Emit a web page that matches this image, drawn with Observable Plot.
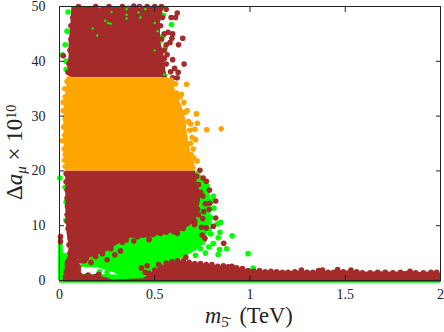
<!DOCTYPE html>
<html><head><meta charset="utf-8">
<style>html,body{margin:0;padding:0;background:#fff}svg{display:block}</style>
<script src="https://cdn.jsdelivr.net/npm/d3@7"></script>
<script src="https://cdn.jsdelivr.net/npm/@observablehq/plot@0.6"></script>
</head><body><script>
const xTicks=[0,0.5,1,1.5,2], yTicks=[0,10,20,30,40,50];
const BROWN="#a52a2a",GREEN="#00ff00",ORANGE="#ffa500";

// envelopes
const topBand=[[50,.065,.55],[47,.06,.53],[45,.055,.53],[43,.05,.535],[41,.05,.55],[39,.045,.555],[37,.05,.565]];
const orangeBand=[[37,.05,.57],[36,.04,.595],[34,.033,.615],[32,.025,.64],[31,.025,.65],[29,.022,.665],[27,.024,.67],[25,.024,.68],[23,.026,.69],[21,.03,.70],[20,.03,.705]];
const lowerBand=[[.033,13,20],[.04,8.5,20],[.058,4.6,20],[.11,3.9,20],[.163,4.1,20],[.25,5.3,20],[.303,6.5,20],[.373,7.7,20],[.46,7.8,20],[.53,8.3,20],[.635,8.9,20],[.696,10.2,20],[.715,10.6,20],[.722,12,18],[.74,14.5,16]];
const cornerBlob=[[.03,.3,3.3],[.05,.3,4.6],[.08,.3,5],[.10,.3,3.6],[.115,.6,2.2]];
const bottomLeft=[[.02,-.3,.9],[.1,-.3,1.1],[.2,-.3,.9],[.245,-.3,.5],[.28,-.3,.1],[.44,-.3,.3]];
const strip=[[.44,.3],[.5,1.8],[.57,3.1],[.63,3.6],[.7,3.2],[.74,3],[.8,2.8],[.855,2.6],[.908,2.4],[.94,2.3],[1,1.9],[1.11,1.7],[1.2,1.6],[1.27,1.8],[1.32,1.6],[1.38,1.8],[1.42,1.6],[1.46,1.9],[1.49,1.7],[1.53,1.8],[1.59,1.5],[1.69,1.6],[1.76,1.5],[1.84,1.7],[1.9,1.45],[1.97,1.6],[2.005,1.3]];
const stripDots=[[.47,1.3],[.5,1.9],[.53,2.5],[.56,3.2],[.59,3.4],[.62,3.6],[.65,3.6],[.68,3.3],[.71,3.1],[.74,3.1],[.77,2.9],[.8,2.9],[.83,2.6],[.86,2.7],[.885,2.5],[.905,2.6],[.93,2.3],[.96,2.2],[.99,1.8],[1.02,1.7],[1.05,1.8],[1.08,1.6],[1.11,1.7],[1.14,1.6],[1.17,1.5],[1.2,1.5],[1.235,1.6],[1.27,1.9],[1.3,1.5],[1.33,1.5],[1.36,1.8],[1.38,1.9],[1.41,1.5],[1.44,1.5],[1.46,2],[1.49,1.6],[1.53,1.9],[1.56,1.6],[1.59,1.4],[1.63,1.4],[1.67,1.5],[1.71,1.5],[1.75,1.4],[1.79,1.5],[1.84,1.7],[1.87,1.4],[1.91,1.4],[1.95,1.5],[1.98,1.5]];
const greenMain=[[.115,2.4,4],[.2,2.3,5],[.285,1.4,7],[.33,.5,9],[.39,.5,9],[.46,.8,9],[.513,1.8,10],[.6,3.2,10],[.66,4.3,12],[.72,5.5,20],[.75,6.4,19],[.775,8.2,17.5],[.795,11,15]];
const greenLow=[[0,-.5,1],[.1,-.5,1.2],[.3,-.5,1],[.5,-.5,1],[1,-.5,0],[2,-.5,0]];
const greenLeft=[[-.005,0,8],[.018,0,8],[.02,0,5],[.06,0,4.5],[.11,0,2.6]];

// scattered points
const greenDots=[[.588,46.7],[.545,48.4],[.54,44.5],[.556,42.5],[.551,37.4],[.045,49],[.04,45.5],[.03,43],[.015,41.2],[.035,40],[.035,38.5],[.002,18.7],[.035,14.3],[.03,17],[.034,11],
[.906,8.15],[.99,4.9],[1.017,2.25],[.845,10.6],[.827,10.3],[.842,8.8],[.833,7.8],[.807,6.75],[.877,5.8],[.84,5.65],[.833,4.75],[.766,5],[.714,4.6],[.807,15.4],[.81,13.2],[.793,8.5],[.784,6.1],[.74,5.8],[.772,15.2],[.756,17.3],[.775,17.3],[.793,11.5],[.775,12.5],[.785,10.6],[.785,9.4],[.76,7.5],[.8,14.5],[.77,16.5],[.745,18.5],[.76,10],[.75,7],
[.115,3.9],[.13,3.1],[.16,3.4],[.19,3],[.22,4.5],[.245,4],[.27,2.2],[.3,1.9],[.295,4.2],[.21,1.6],[.25,1.5],[.37,8.2],[.34,7.3],[.47,8.3],[.24,6.9],[.26,7],[.61,9.6],[.68,10.8],[.66,10.2],[.045,2],[.04,4.5],[.065,3.9]];
const greenSpecks=[[.352,49.5],[.352,48.5],[.352,47.8],[.268,46.9],[.255,47],[.415,48.9],[.425,48],[.273,49],[.21,49.9],[.36,50],[.42,50],[.198,44.7],[.175,46],[.24,47.4],[.45,49.5],[.5,47],[.515,45.5],[.535,43.5],[.5,42],[.55,37.6]];
const brownDots=[[.618,48.8],[.609,48],[.586,48],[.57,45.3],[.594,45],[.647,44.2],[.59,44.2],[.58,43.4],[.625,43],[.565,41.2],[.594,40.3],[.654,39.5],[.604,38.7],[.583,38.1],[.623,38],[.594,37],[.618,37],[.56,49.5],[.54,48],[.53,46.5],[.535,50],[.5,50],[.46,50],[.42,50],[.39,50.1],[.33,50],[.26,50],[.19,50],[.1,50],[.07,48],[.06,44],[.055,42],[.02,41],[.05,39.5],[.06,46.5],[.55,42],[.56,39.5],[.045,38],[.55,45],[.535,44],[.56,43],[.55,40.5],
[.737,20.1],[.754,18.7],[.771,18.1],[.787,16.5],[.74,16.1],[.752,15.4],[.82,14.5],[.789,14.1],[.766,14],[.786,13],[.757,12.6],[.82,11.4],[.752,11.3],[.807,9.9],[.745,9.7],[.77,9.6],[.749,8.3],[.763,7.7],[.862,6.8],[.663,4.25],[.618,8.6],[.709,10.2],[.72,19],[.73,17.5],[.725,13],[.73,12],[.71,10.8],
[.005,8],[.005,7.1],[.13,3.6],[.165,3.3],[.205,1.1],[.25,3.8],[.29,4.7],[.32,5.4],[.33,7],[.39,7.2],[.44,8.3],[.47,7.5],[.49,8.4],[.56,8.8],[.6,8.9],[.43,2.3],[.46,2.7],[.52,2.9],[.45,1.5],[.51,1.1],[.055,5],[.075,3.8],[.055,3.5],[.085,2.9],[.1,2.5],[.035,1.5],[.105,1],[.15,1],[.19,.7],[.04,12],[.04,15],[.035,18],[.045,9.5],[.05,6.5],[.07,4.5],[.11,3.6],[.035,19.5],[.04,16.5],[.042,13.5],[.04,10.8],[.055,7.8],[.06,5.6],[.09,4.4],[.14,4],[.19,4.4],[.225,4.9],[.27,5.8],[.35,7.4],[.41,8],[.53,8.6],[.65,9.5]];
const orangeDots=[[.604,35.9],[.667,35.8],[.609,35.9],[.719,30.4],[.724,28.7],[.71,27.6],[.773,27.5],[.849,27.7],[.688,28.6],[.661,30.7],[.653,32.5],[.632,33.5],[.614,34.2],[.684,27.4],[.696,26.1],[.714,25.7],[.702,24],[.705,22.4],[.723,21.8],[.69,23],[.67,31],[.64,34],[.02,32.5],[.02,31],[.022,28],[.016,25.5],[.025,24],[.026,22],[.028,35],[.03,33.5],[.04,36.3],[.585,36.6],[.7,20.6],[.03,29.5],[.028,26.5],[.03,23],[.03,20.8],[.05,36.8],[.677,29],[.688,25],[.695,21.5]];

const dot=(d,fill,r=2.8)=>Plot.dot(d,{x:d=>d[0],y:d=>d[1],r,fill,stroke:null,clip:false});
const areaV=(d,fill)=>Plot.areaY(d,{x:d=>d[0],y1:d=>d[1],y2:d=>d[2],fill,curve:"linear"});
const areaH=(d,fill)=>Plot.areaX(d,{y:d=>d[0],x1:d=>d[1],x2:d=>d[2],fill,curve:"linear"});

const chart=Plot.plot({
  width:444,height:332,marginLeft:59,marginRight:4,marginTop:6,marginBottom:52,
  style:{background:"#fff",fontFamily:"'Liberation Serif',serif",fontSize:"14px",color:"#222"},
  x:{domain:[0,2]},y:{domain:[0,50]},
  marks:[
    areaV(greenLow,GREEN),areaV(greenLeft,GREEN),areaV(greenMain,GREEN),dot(greenDots,GREEN),
    areaH(topBand,BROWN),areaV(lowerBand,BROWN),areaV(cornerBlob,BROWN),areaV(bottomLeft,BROWN),
    Plot.areaY(strip,{x:d=>d[0],y1:()=>-.3,y2:d=>d[1],fill:BROWN,curve:"linear"}),
    dot(stripDots,BROWN),dot(brownDots,BROWN),dot(greenSpecks,GREEN,1.2),
    areaH(orangeBand,ORANGE),dot(orangeDots,ORANGE),
    Plot.frame({stroke:"#222",strokeWidth:1}),
    Plot.axisX({ticks:xTicks,tickFormat:d=>String(d),anchor:"bottom",tickSize:-5,tickPadding:14,label:null,stroke:"#222"}),
    Plot.axisX({ticks:xTicks,tickFormat:()=>"",anchor:"top",tickSize:-5,label:null,stroke:"#222"}),
    Plot.axisY({ticks:yTicks,anchor:"left",tickSize:-5,tickPadding:19,label:null,stroke:"#222"}),
    Plot.axisY({ticks:yTicks,tickFormat:()=>"",anchor:"right",tickSize:-5,label:null,stroke:"#222"})
  ]
});
document.body.appendChild(chart);
const svg=d3.select(chart);
function label(sel,parts){parts.forEach(p=>{const t=sel.append("tspan").text(p.t);
  if(p.i)t.attr("font-style","italic"); if(p.s)t.attr("font-size",p.s); if(p.dy)t.attr("dy",p.dy); if(p.dx)t.attr("dx",p.dx);});}
label(svg.append("text").attr("x",205).attr("y",323).attr("font-size",22.5).attr("fill","#222").attr("text-anchor","start")
  .attr("font-family","'Liberation Serif',serif"),
  [{t:"m",i:true},{t:"5\u0304",s:15,dy:4},{t:" (TeV)",dy:-4,dx:5}]);
label(svg.append("text").attr("transform","translate(22,200) rotate(-90)").attr("font-size",23).attr("fill","#222").attr("text-anchor","start")
  .attr("font-family","'Liberation Serif',serif"),
  [{t:"\u0394"},{t:"a",i:true},{t:"\u03bc",i:true,s:15,dy:4},{t:" \u00d7 10",dy:-4},{t:"10",s:14,dy:-6}]);
</script></body></html>
